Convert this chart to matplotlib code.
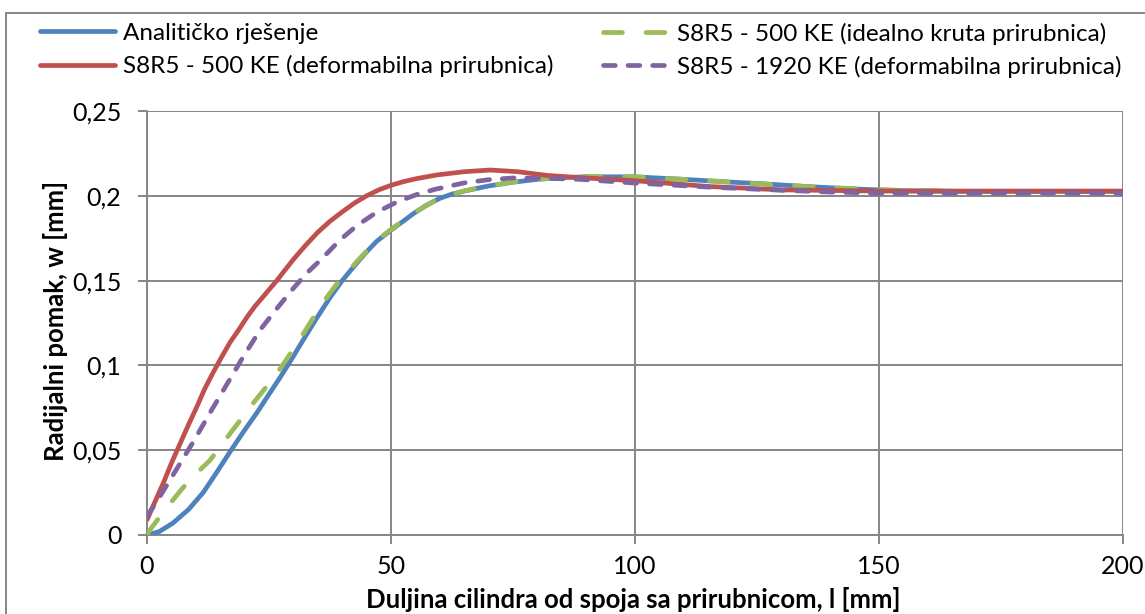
import matplotlib
matplotlib.use("Agg")
import matplotlib.pyplot as plt
from matplotlib.patches import Rectangle
from matplotlib.ticker import FuncFormatter

plt.rcParams['font.family'] = ['Lato', 'DejaVu Sans']

# Analitičko rješenje
x_an = [0, 2.5, 5.3, 8.5, 11.5, 14.3, 17, 19.8, 22.5, 25, 27.3, 29.7, 32, 34.8, 37.5, 40, 42.3, 44.7, 47, 50,
        52.5, 54.6, 57.3, 60, 62.5, 65, 70, 75, 80, 85, 90, 100, 110, 120, 125, 135, 145, 155, 170, 185, 200]
y_an = [0, 0.002, 0.007, 0.015, 0.025, 0.037, 0.049, 0.061, 0.072, 0.083, 0.093, 0.104, 0.115, 0.128, 0.140, 0.150,
        0.158, 0.166, 0.173, 0.1798, 0.185, 0.1895, 0.1945, 0.1985, 0.201, 0.2028, 0.2058, 0.208, 0.2097, 0.2107,
        0.2112, 0.2112, 0.2097, 0.208, 0.2073, 0.2055, 0.204, 0.203, 0.2025, 0.2025, 0.2025]

# S8R5 - 500 KE (idealno kruta prirubnica)
x_kr = [0, 0.6, 4, 7.4, 10, 12.9, 15.5, 18.4, 21, 23.8, 26.3, 28.7, 31, 33.4, 35.8, 38.1, 40, 42.3, 44.7, 47, 50,
        54.6, 60, 65, 70, 75, 80, 90, 100, 110, 120, 135, 150, 170, 200]
y_kr = [0, 0.003, 0.016, 0.028, 0.036, 0.044, 0.054, 0.065, 0.075, 0.085, 0.094, 0.104, 0.114, 0.125, 0.136, 0.145,
        0.152, 0.159, 0.1665, 0.1735, 0.1802, 0.1898, 0.1987, 0.2029, 0.2058, 0.2081, 0.2098, 0.2113, 0.2112,
        0.2097, 0.208, 0.2055, 0.2035, 0.2025, 0.2025]

# S8R5 - 500 KE (deformabilna prirubnica)
x_def = [0, 1.7, 3.4, 5.1, 6.8, 8.5, 10.2, 11.8, 13.5, 15.3, 17, 18.8, 20.5, 22.1, 23.8, 25.2, 26.6, 28.3, 30,
         32.5, 35, 37.5, 40, 42.5, 45, 47.5, 50, 52.5, 55, 59.4, 65, 70.3, 76, 82, 90, 100, 115, 130, 150, 175, 200]
y_def = [0.009, 0.020, 0.031, 0.043, 0.054, 0.065, 0.0755, 0.086, 0.0955, 0.105, 0.1135, 0.121, 0.1285, 0.1348,
         0.1405, 0.1453, 0.150, 0.1563, 0.1625, 0.1708, 0.1785, 0.185, 0.1905, 0.1957, 0.2, 0.2035, 0.2062, 0.2083,
         0.21, 0.2123, 0.2142, 0.2152, 0.2142, 0.212, 0.2105, 0.2089, 0.2055, 0.2035, 0.2028, 0.2028, 0.2028]

# S8R5 - 1920 KE (deformabilna prirubnica)
x_def2 = [0, 2.7, 6.1, 9.5, 12.9, 16.4, 19.7, 23.2, 26.6, 30, 32.7, 35.8, 39.5, 42.9, 47, 51.1, 55.3, 59, 64.8, 70,
          75, 82, 88.7, 100, 116, 129, 140, 150, 175, 200]
y_def2 = [0.011, 0.023, 0.039, 0.055, 0.072, 0.089, 0.105, 0.121, 0.1335, 0.1455, 0.1543, 0.1628, 0.1738, 0.1822,
          0.1902, 0.1962, 0.2008, 0.2038, 0.2075, 0.2095, 0.2105, 0.2103, 0.2097, 0.2075, 0.205, 0.2034, 0.2022,
          0.2016, 0.2016, 0.2016]

labels = ["Analitičko rješenje",
          "S8R5 - 500 KE (idealno kruta prirubnica)",
          "S8R5 - 500 KE (deformabilna prirubnica)",
          "S8R5 - 1920 KE (deformabilna prirubnica)"]
x_label = "Duljina cilindra od spoja sa prirubnicom, l [mm]"
y_label = "Radijalni pomak, w [mm]"
x_ticks = [0, 50, 100, 150, 200]
y_ticks = [0, 0.05, 0.1, 0.15, 0.2, 0.25]

c_blue, c_green, c_red, c_purple = '#4F81BD', '#9BBB59', '#C0504D', '#8064A2'
grid_c = '#868686'

W, H = 1145, 614
fig = plt.figure(figsize=(W / 100, H / 100), dpi=100)
ax = fig.add_axes([147 / W, 1 - 535 / H, (1123 - 147) / W, (535 - 111) / H])

lw = 3.4
l1, = ax.plot(x_an, y_an, color=c_blue, lw=lw, solid_capstyle='round', solid_joinstyle='round', zorder=3)
l2, = ax.plot(x_kr, y_kr, color=c_green, lw=lw, dashes=(4.0, 5.0), dash_capstyle='round', zorder=4)
l3, = ax.plot(x_def, y_def, color=c_red, lw=lw, solid_capstyle='round', solid_joinstyle='round', zorder=5)
l4, = ax.plot(x_def2, y_def2, color=c_purple, lw=lw, dashes=(2.5, 2.7), dash_capstyle='round', zorder=6)

ax.set_xlim(0, 200)
ax.set_ylim(0, 0.25)
ax.set_xticks(x_ticks)
ax.set_yticks(y_ticks)
fmt = FuncFormatter(lambda v, p: ('%g' % round(v, 3)).replace('.', ','))
ax.xaxis.set_major_formatter(fmt)
ax.yaxis.set_major_formatter(fmt)
ax.grid(True, color=grid_c, lw=1.4, zorder=0)
for s in ['top', 'right']:
    ax.spines[s].set_visible(False)
for s in ['left', 'bottom']:
    ax.spines[s].set_color(grid_c)
    ax.spines[s].set_linewidth(1.4)
    ax.spines[s].set_zorder(1)
ax.tick_params(axis='both', direction='out', length=6.5, width=1.4, color=grid_c, labelsize=18, labelcolor='black')
ax.tick_params(axis='x', pad=8)
ax.tick_params(axis='y', pad=12)

fig.text(633 / W, 1 - 599 / H, x_label, fontsize=18.5, fontweight='bold', ha='center', va='center')
fig.text(55 / W, 1 - 321 / H, y_label, fontsize=18.5, fontweight='bold', ha='center', va='center', rotation=90)

leg_kw = dict(loc='center left', frameon=False, fontsize=17.5, handletextpad=0.33, labelspacing=0.45,
              borderaxespad=0, borderpad=0)
leg1 = fig.legend([l1, l3], [labels[0], labels[2]], bbox_to_anchor=(40 / W, 1 - 50 / H),
                  handlelength=3.1, **leg_kw)
leg2 = fig.legend([l2, l4], [labels[1], labels[3]], bbox_to_anchor=(603 / W, 1 - 50 / H),
                  handlelength=2.7, **leg_kw)

fig.add_artist(Rectangle((6 / W, -0.05), 1.2, 1 - 13 / H + 0.05, transform=fig.transFigure,
                         fill=False, edgecolor=grid_c, lw=1.4))

fig.savefig("out.png", dpi=100)
